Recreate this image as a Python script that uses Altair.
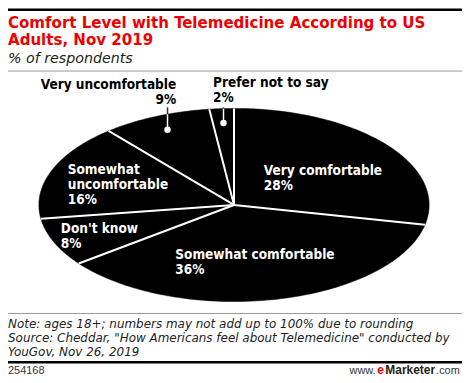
import altair as alt
import pandas as pd

# ---- data ----
categories = ["Very comfortable", "Somewhat comfortable", "Don't know",
              "Somewhat uncomfortable", "Very uncomfortable", "Prefer not to say"]
values = [28, 36, 8, 16, 9, 2]
label_names = ["Very comfortable", "Somewhat comfortable", "Don't know",
               "Somewhat\nuncomfortable", "Very uncomfortable", "Prefer not to say"]
outside = ["Very uncomfortable", "Prefer not to say"]

title_line1 = "Comfort Level with Telemedicine According to US"
title_line2 = "Adults, Nov 2019"
subtitle = "% of respondents"
note = ("Note: ages 18+; numbers may not add up to 100% due to rounding\n"
        "Source: Cheddar, \"How Americans feel about Telemedicine\" conducted by\n"
        "YouGov, Nov 26, 2019")
chart_id = "254168"

# ---- layout / style (pixels, plot coordinates) ----
W, H = 456, 375
CX, CY, RX, RY = 227, 197, 196, 97
label_x = [257, 168, 53, 60, 169, 206]
label_y = [167, 251, 225, 166, 81, 79]
label_align = ["left", "left", "left", "left", "right", "left"]
label_color = ["white", "white", "white", "white", "black", "black"]
BOLD = "DejaVu Sans Condensed, DejaVu Sans"
ARIAL = "Liberation Sans, Arial"
N = 90

df = pd.DataFrame({"category": categories, "value": values, "order": list(range(len(values)))})
lab = pd.DataFrame({
    "text": [f"{n}\n{v}%" for n, v in zip(label_names, values)],
    "lx": label_x, "ly": label_y, "align": label_align, "color": label_color,
})

xs = alt.Scale(domain=[-1, 1], range=[CX - RX, CX + RX], nice=False, zero=False)
ys = alt.Scale(domain=[-1, 1], range=[CY + RY, CY - RY], nice=False, zero=False)

base = (alt.Chart(df)
        .transform_joinaggregate(total="sum(value)")
        .transform_window(cum="sum(value)", sort=[alt.SortField("order")], frame=[None, 0])
        .transform_calculate(a0="(datum.cum - datum.value) / datum.total * 2 * PI",
                             a1="datum.cum / datum.total * 2 * PI"))

wedges = (base
          .transform_calculate(step=f"sequence(0, {N + 3})")
          .transform_flatten(["step"])
          .transform_calculate(
              t=f"clamp((datum.step - 1) / {N}, 0, 1)",
              ang="datum.a0 + (datum.a1 - datum.a0) * datum.t",
              ctr=f"datum.step == 0 || datum.step == {N + 2}",
              px="datum.ctr ? 0 : sin(datum.ang)",
              py="datum.ctr ? 0 : cos(datum.ang)")
          .mark_line(fill="black", stroke="black", strokeWidth=0.5)
          .encode(x=alt.X("px:Q", scale=xs, axis=None),
                  y=alt.Y("py:Q", scale=ys, axis=None),
                  order="step:Q", detail="category:N"))

seps = (base
        .transform_calculate(zero="0", sx="sin(datum.a0)", sy="cos(datum.a0)")
        .mark_rule(color="white", strokeWidth=2)
        .encode(x=alt.X("zero:Q", scale=xs, axis=None), y=alt.Y("zero:Q", scale=ys, axis=None),
                x2="sx:Q", y2="sy:Q"))

lead = (base
        .transform_filter(alt.FieldOneOfPredicate(field="category", oneOf=outside))
        .transform_calculate(mid="(datum.a0 + datum.a1) / 2",
                             dx="0.85 * sin(datum.mid)", dy="0.85 * cos(datum.mid)",
                             edge="sqrt(1 - datum.dx * datum.dx)"))
lead_in = lead.mark_rule(color="white", strokeWidth=1.5).encode(
    x=alt.X("dx:Q", scale=xs, axis=None), y=alt.Y("dy:Q", scale=ys, axis=None), y2="edge:Q")
lead_out = lead.mark_rule(color="#333333", strokeWidth=1.5).encode(
    x=alt.X("dx:Q", scale=xs, axis=None), y=alt.Y("edge:Q", scale=ys, axis=None), y2=alt.value(99))
dots = lead.mark_circle(color="white", size=42, opacity=1).encode(
    x=alt.X("dx:Q", scale=xs, axis=None), y=alt.Y("dy:Q", scale=ys, axis=None))

def label_layer(al):
    return (alt.Chart(lab).transform_filter(alt.datum.align == al)
            .mark_text(font=BOLD, fontWeight="bold", fontSize=13.6, lineBreak="\n",
                       lineHeight=15, baseline="alphabetic", align=al)
            .encode(x=alt.X("lx:Q", scale=None), y=alt.Y("ly:Q", scale=None), text="text:N",
                    color=alt.Color("color:N", scale=None)))

labels_l = label_layer("left")
labels_r = label_layer("right")

def txt(s, x, y, **kw):
    return alt.Chart(pd.DataFrame({"t": [s]})).mark_text(baseline="alphabetic", lineBreak="\n", **kw).encode(
        x=alt.value(x), y=alt.value(y), text="t:N")

def hrule(y, x1, x2, color, w):
    return alt.Chart(pd.DataFrame({"a": [0]})).mark_rule(color=color, strokeWidth=w).encode(
        x=alt.value(x1), x2=alt.value(x2), y=alt.value(y))

title1 = txt(title_line1, 0, 19.3, font=BOLD, fontWeight="bold", fontSize=16.8, color="#ee0000", align="left")
title2 = txt(title_line2, 0, 36.2, font=BOLD, fontWeight="bold", fontSize=16.8, color="#ee0000", align="left")
sub = txt(subtitle, 0, 54, font="DejaVu Sans", fontStyle="italic", fontSize=14.3, color="#222222", align="left")
notes = txt(note, 0, 321, font="DejaVu Sans", fontStyle="italic", fontSize=12, color="#222222",
            align="left", lineHeight=13.8)
cid = txt(chart_id, 0, 367, font=ARIAL, fontSize=11, color="#333333", align="left")
w1 = txt("www.", 343, 367, font=ARIAL, fontSize=11, color="#333333", align="left")
w2 = txt("e", 371, 367, font=ARIAL, fontWeight="bold", fontSize=12, color="#ee0000", align="left")
w3 = txt("Marketer", 379, 367, font=ARIAL, fontWeight="bold", fontSize=12, color="#222222", align="left")
w4 = txt(".com", 430, 367, font=ARIAL, fontSize=11, color="#333333", align="left")

r1 = hrule(1, 0, W, "black", 2.5)
r2 = hrule(62.5, 0, W, "#999999", 1)
r3 = hrule(306, 0, W, "#999999", 1)
r4 = hrule(355, 0, W, "black", 2.5)

chart = alt.layer(wedges, seps, lead_in, lead_out, dots, labels_l, labels_r, title1, title2, sub, notes,
                  cid, w1, w2, w3, w4, r1, r2, r3, r4).properties(
    width=W, height=H, padding=0, autosize=alt.AutoSizeParams(type="none"),
).configure_view(stroke=None)

chart.save("out.html", embed_options={"renderer": "svg", "actions": False})
